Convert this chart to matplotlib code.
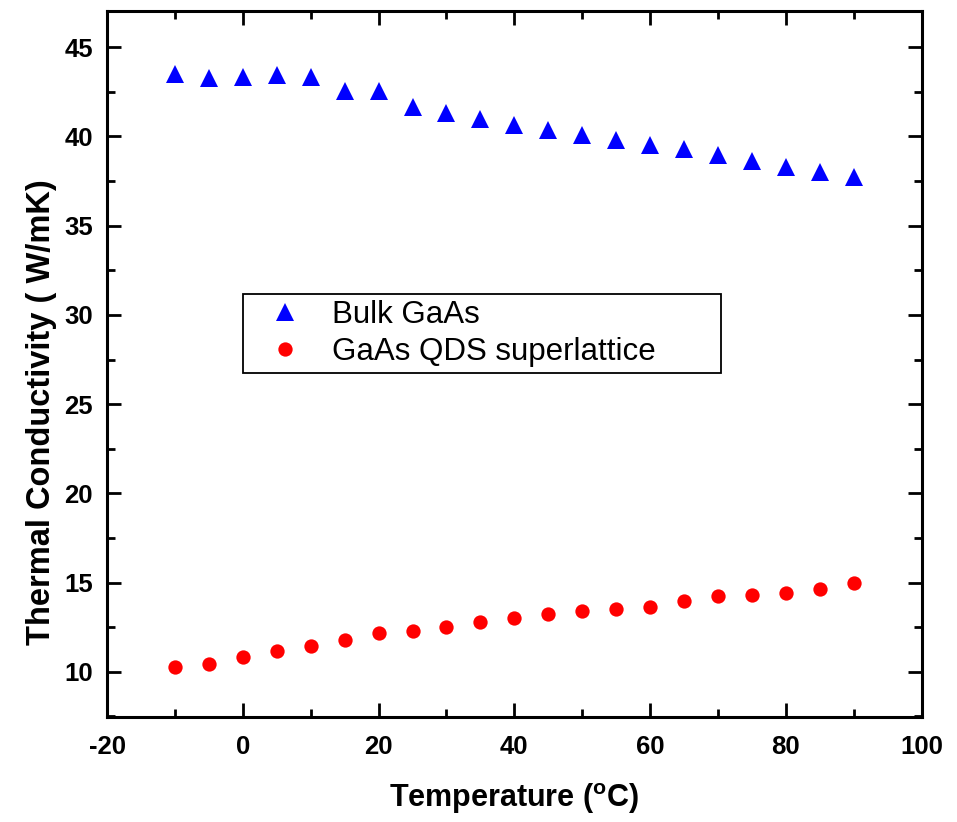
import matplotlib
matplotlib.use("Agg")
import matplotlib.pyplot as plt
from matplotlib.ticker import MultipleLocator

temperature = [-10, -5, 0, 5, 10, 15, 20, 25, 30, 35, 40, 45, 50, 55, 60, 65, 70, 75, 80, 85, 90]
bulk_gaas = [43.48, 43.30, 43.33, 43.43, 43.35, 42.54, 42.57, 41.63, 41.29, 40.96, 40.64,
             40.36, 40.11, 39.80, 39.55, 39.31, 38.99, 38.65, 38.31, 38.03, 37.72]
qds_superlattice = [10.26, 10.43, 10.84, 11.16, 11.45, 11.79, 12.16, 12.28, 12.52, 12.78, 13.00,
                    13.25, 13.40, 13.51, 13.62, 13.99, 14.25, 14.29, 14.40, 14.64, 15.00]
series_labels = ["Bulk GaAs", "GaAs QDS superlattice"]

plt.rcParams['font.family'] = ['Liberation Sans', 'DejaVu Sans']
plt.rcParams['mathtext.fontset'] = 'custom'
plt.rcParams['mathtext.rm'] = 'Liberation Sans:bold'
plt.rcParams['axes.unicode_minus'] = False

fig = plt.figure(figsize=(9.57, 8.22), dpi=100)
ax = fig.add_axes([107/957, 1 - 716.7/822, (921.7 - 107)/957, (716.7 - 10.7)/822])

ax.plot(temperature, bulk_gaas, linestyle='none', marker='^', markersize=12.3,
        color='#0000ff', markeredgewidth=0, label=series_labels[0])
ax.plot(temperature, qds_superlattice, linestyle='none', marker='o', markersize=10.3,
        color='#ff0000', markeredgewidth=0, label=series_labels[1])

ax.set_xlim(-20, 100)
ax.set_ylim(7.48, 47.05)
ax.xaxis.set_major_locator(MultipleLocator(20))
ax.xaxis.set_minor_locator(MultipleLocator(10))
ax.yaxis.set_major_locator(MultipleLocator(5))
ax.yaxis.set_minor_locator(MultipleLocator(2.5))

for s in ax.spines.values():
    s.set_linewidth(2.2)
ax.tick_params(which='both', direction='in', top=True, right=True, width=2.0)
ax.tick_params(which='major', length=10)
ax.tick_params(which='minor', length=6)
ax.tick_params(axis='x', which='major', pad=13, labelsize=18.5)
ax.tick_params(axis='y', which='major', pad=10, labelsize=18.5)
for lab in ax.get_xticklabels() + ax.get_yticklabels():
    lab.set_fontweight('bold')

ax.set_xlabel("Temperature ($^{\\mathrm{o}}$C)", fontsize=22, fontweight='bold')
ax.set_ylabel("Thermal Conductivity ( W/mK)", fontsize=23.5, fontweight='bold')
ax.xaxis.set_label_coords(0.5, -0.091)
ax.yaxis.set_label_coords(-0.061, 0.4316)

leg = ax.legend(loc='upper left', bbox_to_anchor=(0.1666, 0.4783, 0.5867, 0.1204),
                mode='expand', borderaxespad=0, fontsize=22.5, frameon=True,
                fancybox=False, shadow=False, borderpad=0.2, labelspacing=0.2,
                handlelength=2.3, handletextpad=0.35, markerscale=1.0, framealpha=1)
leg.get_frame().set_edgecolor('black')
leg.get_frame().set_linewidth(1.3)

fig.savefig("out.png", dpi=100)
